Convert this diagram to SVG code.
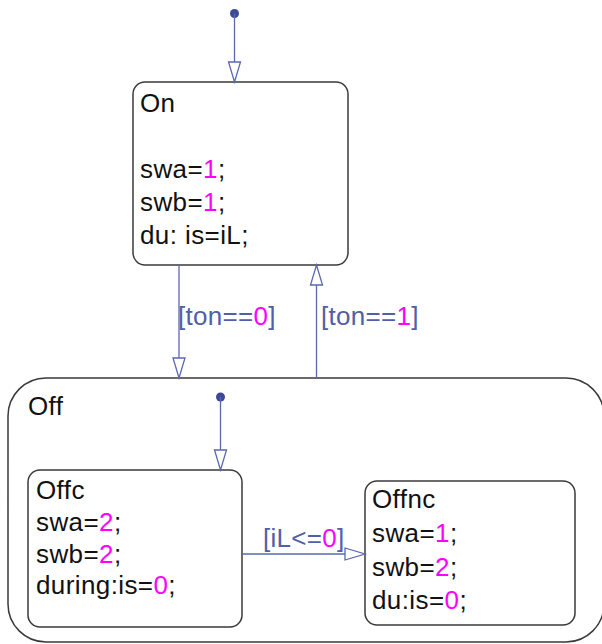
<svg xmlns="http://www.w3.org/2000/svg" width="602" height="644" viewBox="0 0 602 644">
<style>
.box{fill:none;stroke:#3a3a3a;stroke-width:1.5}
.t{font-family:"Liberation Sans",Arial,sans-serif;font-size:26px;letter-spacing:0.4px;fill:#111}
.n{fill:#ff00ff}
.lbl{font-family:"Liberation Sans",Arial,sans-serif;font-size:26px;letter-spacing:0.3px;fill:#5060a8}
.tr{fill:none;stroke:#5a68b0;stroke-width:1.3}
.head{fill:#fff;stroke:#5a68b0;stroke-width:1.3}
.dot{fill:#3c4a96}
</style>
<rect width="602" height="644" fill="#fff"/>
<g id="Off">
<rect class="box" x="8" y="378" width="596" height="264" rx="38"/>
<text class="t" x="28" y="415">Off</text>
</g>
<g id="On">
<rect class="box" x="133" y="82" width="215" height="183" rx="12"/>
<text class="t" x="140" y="112">On</text>
<text class="t" x="140" y="178">swa=<tspan class="n">1</tspan>;</text>
<text class="t" x="140" y="211">swb=<tspan class="n">1</tspan>;</text>
<text class="t" x="140" y="244">du: is=iL;</text>
</g>
<g id="Offc">
<rect class="box" x="28" y="470" width="214" height="157" rx="12"/>
<text class="t" x="36" y="499">Offc</text>
<text class="t" x="36" y="531">swa=<tspan class="n">2</tspan>;</text>
<text class="t" x="36" y="563">swb=<tspan class="n">2</tspan>;</text>
<text class="t" x="36" y="594">during:is=<tspan class="n">0</tspan>;</text>
</g>
<g id="Offnc">
<rect class="box" x="365" y="481" width="210" height="144" rx="12"/>
<text class="t" x="372" y="508">Offnc</text>
<text class="t" x="372" y="542">swa=<tspan class="n">1</tspan>;</text>
<text class="t" x="372" y="576">swb=<tspan class="n">2</tspan>;</text>
<text class="t" x="372" y="609">du:is=<tspan class="n">0</tspan>;</text>
</g>
<g id="connectors">
<circle class="dot" cx="234.5" cy="13.5" r="4.5"/>
<line class="tr" x1="234.5" y1="13.5" x2="234.5" y2="62"/>
<polygon class="head" points="228.5,62 240.5,62 234.5,82"/>
<line class="tr" x1="179" y1="265" x2="179" y2="358"/>
<polygon class="head" points="173,358 185,358 179,378"/>
<text class="lbl" x="178" y="325">[ton==<tspan class="n">0</tspan>]</text>
<line class="tr" x1="316.5" y1="378" x2="316.5" y2="285"/>
<polygon class="head" points="310.5,285 322.5,285 316.5,265"/>
<text class="lbl" x="321" y="325">[ton==<tspan class="n">1</tspan>]</text>
<circle class="dot" cx="220.5" cy="397" r="4.5"/>
<line class="tr" x1="220.5" y1="397" x2="220.5" y2="450"/>
<polygon class="head" points="214.5,450 226.5,450 220.5,470"/>
<line class="tr" x1="242" y1="554" x2="345" y2="554"/>
<polygon class="head" points="345,548 345,560 365,554"/>
<text class="lbl" x="263" y="547">[iL&lt;=<tspan class="n">0</tspan>]</text>
</g>
</svg>
